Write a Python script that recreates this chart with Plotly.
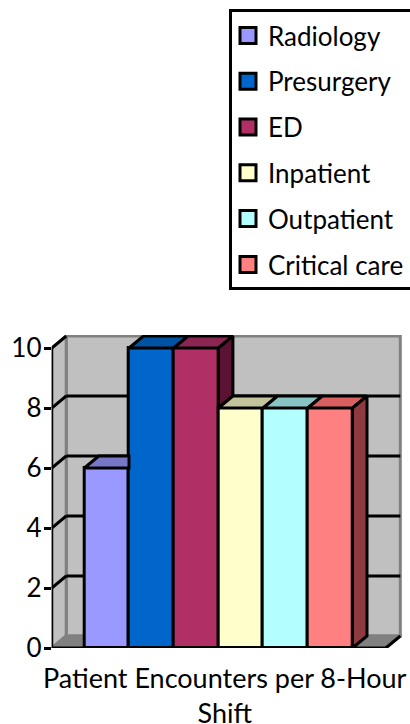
import plotly.graph_objects as go

series = ["Radiology", "Presurgery", "ED", "Inpatient", "Outpatient", "Critical care"]
values = [6, 10, 10, 8, 8, 8]
front_colors = ["#9999FF", "#0066CC", "#B03066", "#FFFFCC", "#B3FFFF", "#FF8080"]
top_colors = ["#7777C8", "#0052A3", "#8B2652", "#C4C49C", "#89C4C4", "#D96060"]
side_colors = ["#5A5A96", "#003D7A", "#5C1233", "#99997A", "#6B9999", "#8F3A3E"]
y_ticks = [0, 2, 4, 6, 8, 10]
x_label = "Patient Encounters per 8-Hour<br>Shift"

FONT = "Lato, Carlito, sans-serif"
W, H = 410, 724
PX_L, PX_R, PX_B, PX_T = 51.7, 402.0, 648.0, 335.0
BAR_PX = 44.7
PX_PER_UNIT = 30.0
n = len(series)
bw = 1.0 / n
x_min = -0.5 - 32.6 / BAR_PX * bw
x_end = 0.5 + 33.3 / BAR_PX * bw
x_max = x_min + (PX_R - PX_L) / BAR_PX * bw
y_top = (PX_B - PX_T) / PX_PER_UNIT
dx = 14.5 / BAR_PX * bw
dy = 0.4

fig = go.Figure()

# bars (real front faces)
for name, v, c in zip(series, values, front_colors):
    fig.add_trace(go.Bar(x=[0], y=[v], name=name, marker=dict(color=c, line=dict(color="black", width=3)),
                         showlegend=False, cliponaxis=False))

# depth faces derived from the values
for i, v in enumerate(values):
    x0 = -0.5 + i * bw
    x1 = x0 + bw
    nxt = values[i + 1] if i + 1 < n else 0
    top_right = x1 + dx if nxt <= v else x1
    top_right_low = x1
    fig.add_trace(go.Scatter(x=[x0, x0 + dx, top_right, top_right_low, x0], y=[v, v + dy, v + dy, v, v],
                             mode="lines", fill="toself", fillcolor=top_colors[i],
                             line=dict(color="black", width=3), showlegend=False, cliponaxis=False, hoverinfo="skip"))
    if nxt < v:
        fig.add_trace(go.Scatter(x=[x1, x1 + dx, x1 + dx, x1, x1], y=[v, v + dy, nxt + dy, nxt, v],
                                 mode="lines", fill="toself", fillcolor=side_colors[i],
                                 line=dict(color="black", width=3), showlegend=False, cliponaxis=False, hoverinfo="skip"))

# axis lines and end tick
fig.add_trace(go.Scatter(x=[x_min, x_min], y=[0, y_ticks[-1]], mode="lines", line=dict(color="black", width=3),
                         showlegend=False, cliponaxis=False, hoverinfo="skip"))
fig.add_trace(go.Scatter(x=[x_min, x_end, x_end], y=[0, 0, -0.2], mode="lines", line=dict(color="black", width=3),
                         showlegend=False, cliponaxis=False, hoverinfo="skip"))
fig.add_trace(go.Scatter(x=[x_end, x_end + dx], y=[0, dy], mode="lines", line=dict(color="black", width=3),
                         showlegend=False, cliponaxis=False, hoverinfo="skip"))

# legend entries
for name, c in zip(series, front_colors):
    fig.add_trace(go.Scatter(x=[None], y=[None], mode="markers", name=name, legendgroup=name,
                             marker=dict(symbol="square", size=16, color=c, line=dict(color="black", width=3))))

# walls, floor and gridlines
shapes = []
GREY = "#808080"
def poly(xs, ys, fill, line=GREY, width=3):
    path = "M" + "L".join(f"{a},{b}" for a, b in zip(xs, ys)) + "Z"
    shapes.append(dict(type="path", path=path, xref="x", yref="y", fillcolor=fill,
                       line=dict(color=line, width=width), layer="below"))
def seg(xs, ys):
    shapes.append(dict(type="line", x0=xs[0], x1=xs[1], y0=ys[0], y1=ys[1], xref="x", yref="y",
                       line=dict(color="black", width=3), layer="below"))

poly([x_min + dx, x_end + dx, x_end + dx, x_min + dx], [dy, dy, 10 + dy, 10 + dy], "#C0C0C0")
poly([x_min, x_min + dx, x_min + dx, x_min], [0, dy, 10 + dy, 10], "#C0C0C0")
poly([x_min, x_min + dx, x_end + dx, x_end], [0, dy, dy, 0], "#808080")
for t in y_ticks:
    if t == 0:
        continue
    if t < 10:
        seg([x_min + dx, x_end + dx], [t + dy, t + dy])
    seg([x_min, x_min + dx], [t, t + dy])

# legend frame
shapes.append(dict(type="rect", xref="paper", yref="paper", x0=230.5 / W, x1=412 / W,
                   y0=1 - 288.5 / H, y1=1 - 10.5 / H, fillcolor="white",
                   line=dict(color="black", width=3), layer="below"))

fig.update_layout(
    width=W, height=H, margin=dict(l=0, r=0, t=0, b=0, autoexpand=False),
    paper_bgcolor="white", plot_bgcolor="rgba(0,0,0,0)",
    font=dict(family=FONT, size=26, color="black"),
    barmode="group", bargap=0, bargroupgap=0,
    shapes=shapes,
    xaxis=dict(domain=[PX_L / W, PX_R / W], range=[x_min, x_max], showgrid=False, zeroline=False,
               showline=False, ticks="", showticklabels=False),
    yaxis=dict(domain=[1 - PX_B / H, 1 - PX_T / H], range=[0, y_top], tickvals=y_ticks, showgrid=False,
               zeroline=False, showline=False, ticks="outside", ticklen=7, tickwidth=3, tickcolor="black",
               ticklabelstandoff=-3, tickfont=dict(family=FONT, size=26, color="black")),
    legend=dict(x=228 / W, y=1 - 12 / H, xanchor="left", yanchor="top", bgcolor="rgba(0,0,0,0)",
                borderwidth=0, tracegroupgap=9, font=dict(family=FONT, size=26, color="black"),
                entrywidth=140, entrywidthmode="pixels"),
    annotations=[dict(text=x_label, xref="paper", yref="paper", x=225 / W, y=1 - 659 / H, xanchor="center",
                      yanchor="top", showarrow=False, font=dict(family=FONT, size=27, color="black"))],
)
fig.write_html("out.html", config=dict(displayModeBar=False),
               post_script="document.body.style.margin='0';document.body.style.overflow='hidden';")
